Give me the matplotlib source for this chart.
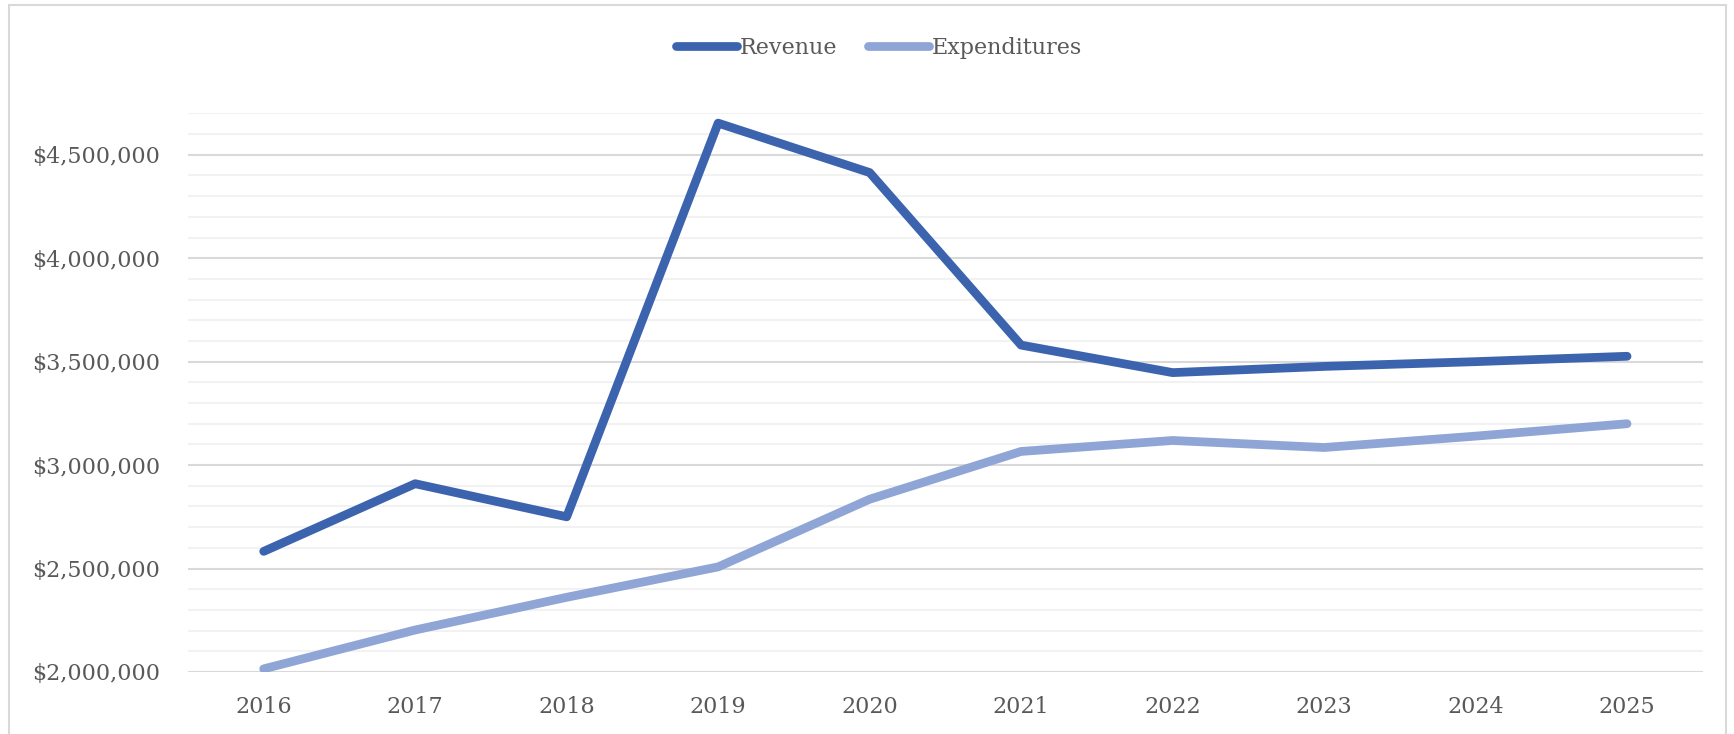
import matplotlib
matplotlib.use('Agg')
import matplotlib.pyplot as plt
from matplotlib.ticker import MultipleLocator, FuncFormatter
from matplotlib.patches import Rectangle

# Data
years = ['2016', '2017', '2018', '2019', '2020', '2021', '2022', '2023', '2024', '2025']
revenue = [2583000, 2910000, 2750000, 4653000, 4414000, 3580000, 3447000, 3477000, 3500000, 3526000]
expenditures = [2015000, 2203000, 2361000, 2508000, 2835000, 3066000, 3119000, 3085000, 3140000, 3200000]

plt.rcParams['font.family'] = ['DejaVu Serif']
text_color = '#595959'

fig = plt.figure(figsize=(17.34, 7.34), dpi=100)
ax = fig.add_axes([0.1084, 0.0845, 0.8736, 0.761])

x = range(len(years))
ax.plot(x, revenue, color='#3C64AE', lw=6.3, solid_capstyle='round', label='Revenue', zorder=3)
ax.plot(x, expenditures, color='#8EA5D6', lw=6.3, solid_capstyle='round', label='Expenditures', zorder=3)

ax.set_xlim(-0.5, len(years) - 0.5)
ax.set_ylim(2000000, 4700000)
ax.set_xticks(list(x))
ax.set_xticklabels(years)

ax.yaxis.set_major_locator(MultipleLocator(500000))
ax.yaxis.set_minor_locator(MultipleLocator(100000))
ax.yaxis.set_major_formatter(FuncFormatter(lambda v, p: f'${v:,.0f}'))

ax.grid(axis='y', which='major', color='#D9D9D9', lw=1.5, zorder=1)
ax.grid(axis='y', which='minor', color='#F2F2F2', lw=1.5, zorder=0)
ax.set_axisbelow(True)
for s in ax.spines.values():
    s.set_visible(False)
ax.tick_params(axis='both', which='both', length=0, labelsize=16, labelcolor=text_color)
ax.tick_params(axis='y', pad=20)
ax.tick_params(axis='x', pad=17)

fig.legend(loc='center', bbox_to_anchor=(0.507, 0.935), ncol=2, frameon=False,
           fontsize=16, handlelength=2.75, handletextpad=0.1, columnspacing=1.4,
           labelcolor=text_color)

# chart area border
fig.patches.append(Rectangle((9 / 1734, -0.05), 1717 / 1734, 1.05 - 5 / 734,
                             transform=fig.transFigure, fill=False,
                             edgecolor='#D9D9D9', lw=1.5))

fig.savefig('out.png', dpi=100)
